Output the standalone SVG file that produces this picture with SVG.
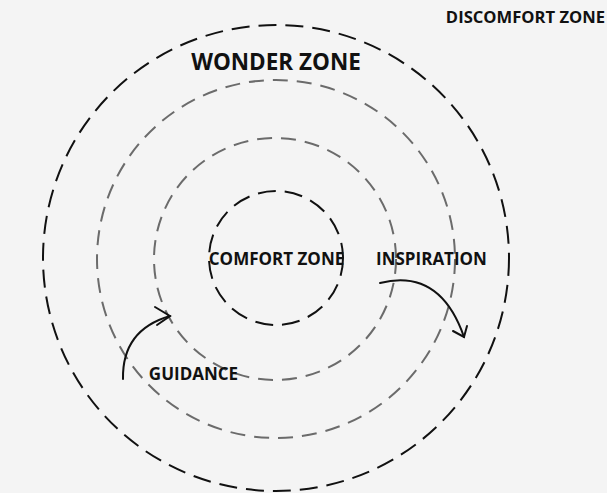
<svg xmlns="http://www.w3.org/2000/svg" width="607" height="493" viewBox="0 0 607 493">
<style>
.ring{fill:none;stroke-width:2}
.dark{stroke:#111;stroke-dasharray:18 9}
.grey{stroke:#6b6b6b;stroke-dasharray:15 9}
.t{font-family:"Open Sans","Noto Sans",sans-serif;font-weight:bold;fill:#111;font-size:17px}
.arr{fill:none;stroke:#111;stroke-width:2;stroke-linecap:round}
</style>
<rect width="607" height="493" fill="#f4f4f4"/>
<g id="outer"><circle class="ring dark" cx="276" cy="258" r="233"/></g>
<g id="ring2"><circle class="ring grey" cx="276" cy="259" r="179"/></g>
<g id="ring3"><circle class="ring grey" cx="275" cy="259" r="121"/></g>
<g id="inner"><circle class="ring dark" cx="276" cy="258" r="67"/></g>
<g id="labels">
<text class="t" x="276" y="70" style="font-size:22.5px" text-anchor="middle">WONDER ZONE</text>
<text class="t" x="605" y="23" text-anchor="end" style="font-size:16.6px">DISCOMFORT ZONE</text>
<text class="t" x="276.5" y="265" text-anchor="middle">COMFORT ZONE</text>
<text class="t" x="431.5" y="265" text-anchor="middle">INSPIRATION</text>
<text class="t" x="193.5" y="380" text-anchor="middle">GUIDANCE</text>
</g>
<g id="connectors">
<path class="arr" d="M123 379 Q122 330 170 316"/>
<path class="arr" d="M155 307 L170 316 L157 325"/>
<path class="arr" d="M380 283 Q440 268 464 337"/>
<path class="arr" d="M453 331 L464 337 L467 326"/>
</g>
</svg>
